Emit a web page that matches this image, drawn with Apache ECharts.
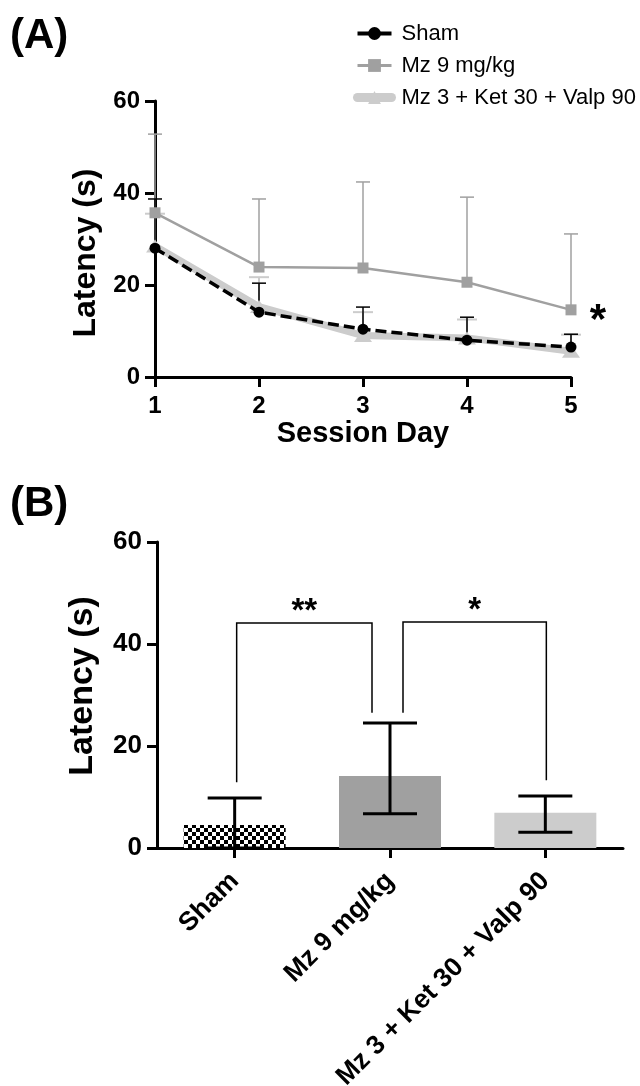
<!DOCTYPE html>
<html>
<head>
<meta charset="utf-8">
<script src="https://cdn.jsdelivr.net/npm/echarts@6/dist/echarts.min.js"></script>
<style>
  html, body { margin: 0; padding: 0; background: #fff; }
  #chart { width: 640px; height: 1086px; }
</style>
</head>
<body>
<div id="chart"></div>
<script>
// panel A: latency per session day (mean + upper error)
const days = [1, 2, 3, 4, 5];
const shamMean = [28.0, 14.1, 10.4, 8.0, 6.5];
const shamUpper = [38.7, 20.4, 15.2, 13.0, 9.3];
const mz9Mean = [35.7, 23.9, 23.7, 20.6, 14.6];
const mz9Upper = [52.8, 38.7, 42.4, 39.1, 31.1];
const comboMean = [28.5, 15.3, 9.0, 8.5, 5.6];
const comboUpper = [35.5, 21.7, 14.1, 12.5, 9.2];
const seriesNames = ['Sham', 'Mz 9 mg/kg', 'Mz 3 + Ket 30 + Valp 90'];

// panel B: latency per group
const groups = ['Sham', 'Mz 9 mg/kg', 'Mz 3 + Ket 30 + Valp 90'];
const barMean = [4.5, 14.1, 6.9];
const barLow = [0, 6.7, 3.1];
const barHigh = [9.8, 24.5, 10.2];

// significance brackets for panel B
const bracketFrom = [0, 1];
const bracketTo = [1, 2];
const bracketTop = [44.1, 44.3];
const bracketFootL = [12.9, 26.5];
const bracketFootR = [26.5, 13.3];
const bracketMark = ['**', '*'];

const FONT = '"Liberation Sans", Arial, Helvetica, sans-serif';

// checkered fill for the sham bar
function checker() {
  const c = document.createElement('canvas');
  c.width = 8; c.height = 8;
  const ctx = c.getContext('2d');
  ctx.fillStyle = '#fff';
  ctx.fillRect(0, 0, 8, 8);
  ctx.fillStyle = '#000';
  ctx.fillRect(0, 0, 4, 4);
  ctx.fillRect(4, 4, 4, 4);
  return c;
}

function upperBar(color, capW, lw) {
  return function (params, api) {
    const p0 = api.coord([api.value(0), api.value(1)]);
    const p1 = api.coord([api.value(0), api.value(2)]);
    return {
      type: 'group',
      children: [
        { type: 'line', shape: { x1: p0[0], y1: p0[1], x2: p1[0], y2: p1[1] }, style: { stroke: color, lineWidth: lw } },
        { type: 'line', shape: { x1: p1[0] - capW / 2, y1: p1[1], x2: p1[0] + capW / 2, y2: p1[1] }, style: { stroke: color, lineWidth: lw } }
      ]
    };
  };
}

function rangeBar(params, api) {
  const lo = api.coord([api.value(0), api.value(1)]);
  const hi = api.coord([api.value(0), api.value(2)]);
  const w = 54;
  const st = { stroke: '#000', lineWidth: 3 };
  return {
    type: 'group',
    children: [
      { type: 'line', shape: { x1: lo[0], y1: lo[1], x2: hi[0], y2: hi[1] }, style: st },
      { type: 'line', shape: { x1: hi[0] - w / 2, y1: hi[1], x2: hi[0] + w / 2, y2: hi[1] }, style: st },
      { type: 'line', shape: { x1: lo[0] - w / 2, y1: lo[1], x2: lo[0] + w / 2, y2: lo[1] }, style: st }
    ]
  };
}

// leg offsets (px) so the two brackets don't touch over the middle bar
const legShift = [[2, -18], [13, 1]];
function bracket(params, api) {
  const i = params.dataIndex;
  const a = api.value(0), b = api.value(1);
  const top = api.value(2);
  const l0 = api.coord([a, api.value(3)]);
  const r0 = api.coord([b, api.value(4)]);
  const t = api.coord([a, top])[1];
  const xl = l0[0] + legShift[i][0];
  const xr = r0[0] + legShift[i][1];
  return {
    type: 'group',
    children: [
      { type: 'polyline', shape: { points: [[xl, l0[1]], [xl, t], [xr, t], [xr, r0[1]]] }, style: { stroke: '#000', lineWidth: 1.5, fill: null } },
      { type: 'text', x: (xl + xr) / 2, y: t + 5, style: { text: bracketMark[i], fill: '#000', font: 'bold 33px ' + FONT, align: 'center', verticalAlign: 'bottom' } }
    ]
  };
}

const chart = echarts.init(document.getElementById('chart'), null, { renderer: 'canvas' });

const axisLine = { show: true, lineStyle: { color: '#000', width: 3 } };
const axisTick = { show: true, length: 10, lineStyle: { color: '#000', width: 3 } };

chart.setOption({
  animation: false,
  backgroundColor: '#fff',
  textStyle: { fontFamily: FONT },
  title: [
    { text: '(A)', left: 5, top: 10, textStyle: { fontFamily: FONT, fontWeight: 'bold', fontSize: 42, color: '#000' } },
    { text: '(B)', left: 5, top: 478, textStyle: { fontFamily: FONT, fontWeight: 'bold', fontSize: 42, color: '#000' } }
  ],
  legend: {
    orient: 'vertical',
    left: 348,
    top: 17,
    itemWidth: 34,
    itemHeight: 16,
    itemGap: 9,
    textStyle: { fontFamily: FONT, fontSize: 22, color: '#000', lineHeight: 23, padding: [0, 0, 0, 5] },
    data: [
      { name: 'Sham', lineStyle: { type: 'solid', width: 4 } },
      { name: 'Mz 9 mg/kg', lineStyle: { width: 3 } },
      { name: 'Mz 3 + Ket 30 + Valp 90', lineStyle: { width: 9, cap: 'round' } }
    ]
  },
  graphic: [
    { type: 'text', x: 598, y: 321, style: { text: '*', font: 'bold 42px ' + FONT, fill: '#000', align: 'center', verticalAlign: 'middle' } }
  ],
  grid: [
    { left: 155, top: 101, width: 416, height: 276, containLabel: false, outerBoundsMode: 'none' },
    { left: 157, top: 542, width: 466, height: 306, containLabel: false, outerBoundsMode: 'none' }
  ],
  xAxis: [
    {
      gridIndex: 0, type: 'value', min: 1, max: 5, interval: 1,
      axisLine: axisLine, axisTick: axisTick, splitLine: { show: false },
      axisLabel: { color: '#000', fontWeight: 'bold', fontSize: 24, margin: 17 },
      name: 'Session Day', nameLocation: 'middle', nameGap: 42,
      nameTextStyle: { color: '#000', fontWeight: 'bold', fontSize: 29 }
    },
    {
      gridIndex: 1, type: 'category', data: groups,
      axisLine: axisLine, axisTick: Object.assign({ alignWithLabel: true }, axisTick),
      axisLabel: { color: '#000', fontWeight: 'bold', fontSize: 26.5, rotate: 45, margin: 29, interval: 0 }
    }
  ],
  yAxis: [
    {
      gridIndex: 0, type: 'value', min: 0, max: 60, interval: 20,
      axisLine: axisLine, axisTick: axisTick, splitLine: { show: false },
      axisLabel: { color: '#000', fontWeight: 'bold', fontSize: 24, margin: 15 },
      name: 'Latency (s)', nameLocation: 'middle', nameGap: 53,
      nameTextStyle: { color: '#000', fontWeight: 'bold', fontSize: 32, padding: [0, 28, 0, 0] }
    },
    {
      gridIndex: 1, type: 'value', min: 0, max: 60, interval: 20,
      axisLine: axisLine, axisTick: axisTick, splitLine: { show: false },
      axisLabel: { color: '#000', fontWeight: 'bold', fontSize: 26, margin: 15 },
      name: 'Latency (s)', nameLocation: 'middle', nameGap: 57,
      nameTextStyle: { color: '#000', fontWeight: 'bold', fontSize: 34, padding: [0, 0, 0, 18] }
    }
  ],
  series: [
    // error bars (upper only) for panel A
    {
      type: 'custom', xAxisIndex: 0, yAxisIndex: 0, z: 1,
      renderItem: upperBar('#cccccc', 20, 2),
      encode: { x: 0, y: [1, 2] },
      data: days.map((d, i) => [d, comboMean[i], comboUpper[i]])
    },
    {
      type: 'custom', xAxisIndex: 0, yAxisIndex: 0, z: 1,
      renderItem: upperBar('#a0a0a0', 14, 1.5),
      encode: { x: 0, y: [1, 2] },
      data: days.map((d, i) => [d, mz9Mean[i], mz9Upper[i]])
    },
    {
      type: 'custom', xAxisIndex: 0, yAxisIndex: 0, z: 1,
      renderItem: upperBar('#000', 14, 1.5),
      encode: { x: 0, y: [1, 2] },
      data: days.map((d, i) => [d, shamMean[i], shamUpper[i]])
    },
    {
      name: seriesNames[2], type: 'line', xAxisIndex: 0, yAxisIndex: 0, z: 2,
      data: days.map((d, i) => [d, comboMean[i]]),
      symbol: 'triangle', symbolSize: [18, 13],
      itemStyle: { color: '#cccccc' },
      lineStyle: { color: '#cccccc', width: 7, cap: 'round', join: 'round' }
    },
    {
      name: seriesNames[1], type: 'line', xAxisIndex: 0, yAxisIndex: 0, z: 3,
      data: days.map((d, i) => [d, mz9Mean[i]]),
      symbol: 'rect', symbolSize: 11,
      itemStyle: { color: '#a0a0a0' },
      lineStyle: { color: '#a0a0a0', width: 2.5 }
    },
    {
      name: seriesNames[0], type: 'line', xAxisIndex: 0, yAxisIndex: 0, z: 4,
      data: days.map((d, i) => [d, shamMean[i]]),
      symbol: 'circle', symbolSize: 11,
      itemStyle: { color: '#000' },
      lineStyle: { color: '#000', width: 3.5, type: [11, 5] }
    },
    // panel B bars
    {
      type: 'bar', xAxisIndex: 1, yAxisIndex: 1, barWidth: 102, z: 2,
      data: barMean.map((v, i) => ({
        value: v,
        itemStyle: { color: i === 0 ? { image: checker(), repeat: 'repeat' } : (i === 1 ? '#a0a0a0' : '#cccccc') }
      }))
    },
    {
      type: 'custom', xAxisIndex: 1, yAxisIndex: 1, z: 3,
      renderItem: rangeBar,
      encode: { x: 0, y: [1, 2] },
      data: groups.map((g, i) => [i, barLow[i], barHigh[i]])
    },
    {
      type: 'custom', xAxisIndex: 1, yAxisIndex: 1, z: 3,
      renderItem: bracket,
      encode: { x: [0, 1], y: [2, 3, 4] },
      data: bracketFrom.map((f, i) => [f, bracketTo[i], bracketTop[i], bracketFootL[i], bracketFootR[i]])
    }
  ]
});
</script>
</body>
</html>
